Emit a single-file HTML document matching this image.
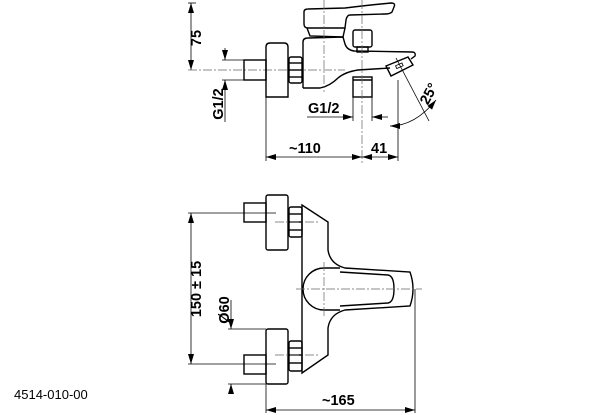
<!DOCTYPE html>
<html><head><meta charset="utf-8"><style>
html,body{margin:0;padding:0;background:#fff;}
svg{display:block;}
.l{fill:none;stroke:#000;stroke-width:1.4;}
.t{fill:none;stroke:#000;stroke-width:0.8;}
.c{fill:none;stroke:#666;stroke-width:0.7;stroke-dasharray:9 2 2 2;}
text{font-family:"Liberation Sans",sans-serif;font-weight:bold;font-size:14.5px;fill:#000;}
</style></head><body>
<svg width="614" height="415" viewBox="0 0 614 415" xmlns="http://www.w3.org/2000/svg">
<defs>
<marker id="a" viewBox="0 0 10 6" refX="10" refY="3" markerWidth="11" markerHeight="6" orient="auto-start-reverse" markerUnits="userSpaceOnUse"><path d="M0,0L10,3L0,6z" fill="#000"/></marker>
</defs>
<line class="t" x1="188" y1="3" x2="196" y2="3"/>
<line class="t" x1="191" y1="3" x2="191" y2="70" marker-start="url(#a)" marker-end="url(#a)"/>
<line class="c" x1="188" y1="70" x2="345" y2="70"/>
<text transform="translate(201,38) rotate(-90)" text-anchor="middle">75</text>
<line class="t" x1="222" y1="60" x2="245" y2="60"/>
<line class="t" x1="222" y1="80" x2="245" y2="80"/>
<line class="t" x1="225" y1="48" x2="225" y2="60" marker-end="url(#a)"/>
<line class="t" x1="225" y1="122" x2="225" y2="80" marker-end="url(#a)"/>
<text transform="translate(223,104) rotate(-90)" text-anchor="middle">G1/2</text>
<rect class="l" x="244" y="60" width="22" height="20"/>
<path class="l" d="M266,97V47Q266,43 270,43H284Q288,43 288,47V97Z"/>
<rect class="l" x="289" y="57" width="13" height="26" rx="2"/>
<line class="l" x1="289" y1="63" x2="302" y2="63"/>
<line class="l" x1="289" y1="70" x2="302" y2="70"/>
<line class="l" x1="289" y1="77" x2="302" y2="77"/>
<path class="l" d="M304,12Q304,9 308,9L345,8Q370,5 391,3Q396,3 394,7L392,12Q390,14 385,14L350,15Q347,15 346,20L345,28H308Q304,28 304,24Z"/>
<path class="l" d="M307,28L310,36L343,37L345,28"/>
<path class="l" d="M303,88V42Q303,38 308,38L343,37L345,44Q347,50 354,51L412,52Q416,52 415,56L411,59"/>
<path class="l" d="M390,68L358,70Q345,72 338,78Q330,86 320,88H303"/>
<path class="l" d="M386,66L408,57L413,65L391,76Z"/>
<rect class="t" x="396" y="64" width="7" height="3" transform="rotate(-24 400 66)"/>
<rect class="l" x="353" y="30" width="19" height="17" rx="2"/>
<rect class="l" x="357" y="47" width="11" height="5"/>
<rect class="l" x="353" y="77" width="19" height="20"/>
<line class="l" x1="353" y1="80" x2="372" y2="80"/>
<line class="c" x1="362" y1="0" x2="362" y2="163"/>
<line class="c" x1="324" y1="0" x2="324" y2="92"/>
<line class="t" x1="353" y1="97" x2="353" y2="121"/>
<line class="t" x1="372" y1="97" x2="372" y2="121"/>
<line class="t" x1="307" y1="117" x2="353" y2="117" marker-end="url(#a)"/>
<line class="t" x1="388" y1="117" x2="372" y2="117" marker-end="url(#a)"/>
<text x="308" y="113">G1/2</text>
<line class="t" x1="396" y1="58" x2="429" y2="121"/>
<line class="t" x1="398" y1="80" x2="398" y2="161"/>
<path class="t" d="M390,126Q415,126 436,100" marker-start="url(#a)" marker-end="url(#a)"/>
<text transform="translate(433,96) rotate(-62)" text-anchor="middle">25°</text>
<line class="t" x1="266" y1="97" x2="266" y2="161"/>
<line class="t" x1="266" y1="157" x2="362" y2="157" marker-start="url(#a)" marker-end="url(#a)"/>
<line class="t" x1="362" y1="157" x2="398" y2="157" marker-start="url(#a)" marker-end="url(#a)"/>
<text x="289" y="153">~110</text>
<text x="371" y="153">41</text>

<line class="t" x1="188" y1="213" x2="276" y2="213"/>
<line class="t" x1="188" y1="364" x2="276" y2="364"/>
<line class="t" x1="191" y1="213" x2="191" y2="364" marker-start="url(#a)" marker-end="url(#a)"/>
<text transform="translate(201,289) rotate(-90)" text-anchor="middle">150 ± 15</text>
<rect class="l" x="244" y="203" width="22" height="19"/>
<rect class="l" x="266" y="195" width="22" height="55" rx="2"/>
<rect class="l" x="289" y="207" width="13" height="30" rx="2"/>
<line class="l" x1="289" y1="214" x2="302" y2="214"/>
<line class="l" x1="289" y1="222" x2="302" y2="222"/>
<line class="l" x1="289" y1="230" x2="302" y2="230"/>
<line class="c" x1="275" y1="222" x2="318" y2="222"/>
<rect class="l" x="244" y="355" width="22" height="19"/>
<rect class="l" x="266" y="329" width="22" height="55" rx="2"/>
<rect class="l" x="289" y="341" width="13" height="30" rx="2"/>
<line class="l" x1="289" y1="348" x2="302" y2="348"/>
<line class="l" x1="289" y1="355" x2="302" y2="355"/>
<line class="l" x1="289" y1="363" x2="302" y2="363"/>
<line class="c" x1="275" y1="355" x2="318" y2="355"/>
<path class="l" d="M302,205L328,222V250Q330,264 345,268L410,272Q416,289 410,306L345,310Q330,314 328,328V355L302,373Z"/>
<path class="l" d="M324,268L340,268M340,310L324,310A21,21 0 0 1 324,268"/>
<path class="l" d="M340,272L388,275Q394,276 394,289Q394,302 388,303L340,306"/>
<line class="c" x1="296" y1="289" x2="422" y2="289"/>
<line class="c" x1="324" y1="262" x2="324" y2="318"/>
<line class="t" x1="228" y1="329" x2="266" y2="329"/>
<line class="t" x1="228" y1="384" x2="266" y2="384"/>
<line class="t" x1="231" y1="300" x2="231" y2="329" marker-end="url(#a)"/>
<line class="t" x1="231" y1="392" x2="231" y2="384" marker-end="url(#a)"/>
<text transform="translate(229,310) rotate(-90)" text-anchor="middle">Ø60</text>
<line class="t" x1="266" y1="384" x2="266" y2="413"/>
<line class="t" x1="415" y1="289" x2="415" y2="413"/>
<line class="t" x1="266" y1="410" x2="415" y2="410" marker-start="url(#a)" marker-end="url(#a)"/>
<text x="322" y="405">~165</text>

<text x="14" y="399" style="font-weight:normal;font-size:13px">4514-010-00</text>
</svg>
</body></html>
